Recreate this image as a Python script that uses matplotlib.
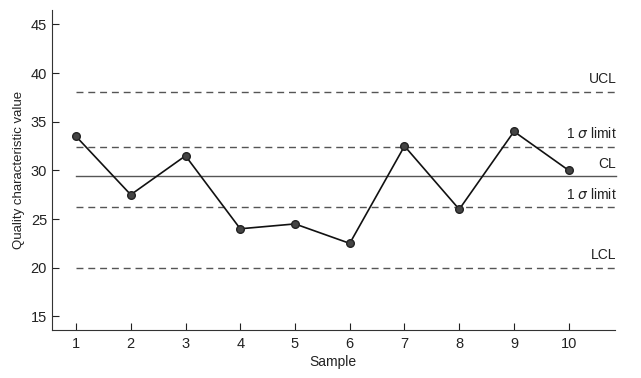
import matplotlib
matplotlib.use("Agg")
import matplotlib.pyplot as plt

plt.rcParams['font.family'] = ['Liberation Sans Narrow', 'Liberation Sans', 'DejaVu Sans']

samples = [1, 2, 3, 4, 5, 6, 7, 8, 9, 10]
values = [33.5, 27.5, 31.5, 24.0, 24.5, 22.5, 32.5, 26.0, 34.0, 30.0]

limit_names = ['UCL', '1 $\\sigma$ limit', 'CL', '1 $\\sigma$ limit', 'LCL']
limit_values = [38.1, 32.4, 29.4, 26.2, 20.0]
limit_styles = ['--', '--', '-', '--', '--']

fig = plt.figure(figsize=(6.41, 3.78), dpi=100)
ax = fig.add_axes([0.081, 0.127, 0.878, 0.847])

x_end = 10.87
for name, val, ls in zip(limit_names, limit_values, limit_styles):
    line, = ax.plot([1, x_end], [val, val], ls=ls, color='#555555', lw=1.0, clip_on=False)
    if ls == '--':
        line.set_dashes((5, 3.5))
    ax.annotate(name, xy=(x_end, val), xytext=(0, 4), textcoords='offset points',
                ha='right', va='bottom', fontsize=10, color='#222222',
                annotation_clip=False)

ax.plot(samples, values, color='#111111', lw=1.2, marker='o', markersize=5.5,
        markerfacecolor='#444444', markeredgecolor='#222222', zorder=3)

ax.set_xlim(0.56, 10.84)
ax.set_ylim(13.6, 46.5)
ax.set_xticks(samples)
ax.set_yticks([15, 20, 25, 30, 35, 40, 45])
ax.tick_params(direction='in', length=5, labelsize=10.5, colors='#222222')
ax.tick_params(axis='x', pad=5)
ax.spines['top'].set_visible(False)
ax.spines['right'].set_visible(False)
for s in ['left', 'bottom']:
    ax.spines[s].set_color('#333333')
ax.set_xlabel('Sample', fontsize=10, color='#222222', labelpad=3)
ax.set_ylabel('Quality characteristic value', fontsize=9.5, color='#222222')

fig.savefig('out.png', dpi=100)
